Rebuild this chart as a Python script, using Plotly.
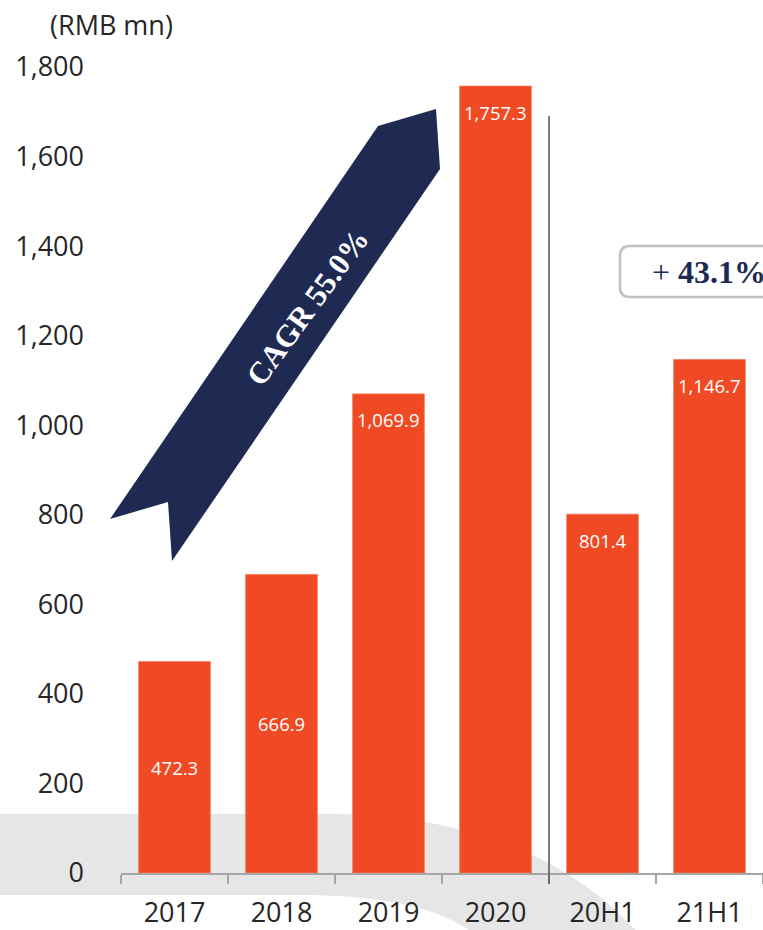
import plotly.graph_objects as go

# Revenue by period (RMB mn)
periods = ["2017", "2018", "2019", "2020", "20H1", "21H1"]
revenue = [472.3, 666.9, 1069.9, 1757.3, 801.4, 1146.7]
y_ticks = [0, 200, 400, 600, 800, 1000, 1200, 1400, 1600, 1800]

cagr_text = "CAGR 55.0%"
growth_text = "+ <b>43.1%</b>"
unit_text = "(RMB mn)"

W, H = 763, 930
ML, MR, MT, MB = 121, 0, 67, 57
PW, PH = W - ML - MR, H - MT - MB

BAR = "#EF4A23"
NAVY = "#1F2A53"
TXT = "#262626"
FONT = "Open Sans"


def px(x, y):
    """Pixel position on the page -> paper coordinates."""
    return (x - ML) / PW, (H - MB - y) / PH


def path(cmds):
    out = []
    for c in cmds:
        if isinstance(c, str):
            out.append(c)
        else:
            xx, yy = px(*c)
            out.append(f"{xx:.5f},{yy:.5f}")
    return " ".join(out)


fig = go.Figure()
fig.add_trace(go.Bar(
    x=periods, y=revenue, width=0.67,
    marker=dict(color=BAR, line=dict(color="#F37A5C", width=0.8)),
    hoverinfo="skip",
))

# value labels: centred in short bars, near the top of tall ones
# (category index used as x so numeric-looking names are not read as positions)
for i, v in enumerate(revenue):
    inside_mid = v < 700
    fig.add_annotation(
        x=i, y=v / 2 if inside_mid else v, yshift=0 if inside_mid else -26,
        text=f"{v:,.1f}", showarrow=False,
        font=dict(family=FONT, size=18.5, color="white"), yanchor="middle",
    )

shapes = []
# grey swoosh behind the baseline
shapes.append(dict(
    type="path", xref="paper", yref="paper", layer="below",
    path=path(["M", (-5, 814), "L", (330, 814), "C", (460, 814), (570, 855), (640, 935),
               "L", (475, 935), "C", (440, 905), (370, 895), (300, 895),
               "L", (-5, 895), "Z"]),
    fillcolor="#E6E6E6", line=dict(width=0),
))
# separator between full years and half years
sx, _ = px(549, 0)
_, sy0 = px(0, 884)
_, sy1 = px(0, 116)
shapes.append(dict(type="line", xref="paper", yref="paper", x0=sx, x1=sx, y0=sy0, y1=sy1,
                   line=dict(color="#595959", width=1.6), layer="above"))
# CAGR ribbon arrow
shapes.append(dict(
    type="path", xref="paper", yref="paper", layer="above",
    path=path(["M", (110, 519), "L", (168, 502), "L", (172, 561), "L", (440, 169),
               "L", (436, 109), "L", (378, 126), "Z"]),
    fillcolor=NAVY, line=dict(width=0),
))
# rounded box for half-year growth
r = 10
x0b, x1b, y0b, y1b = 620, 790, 246, 297
shapes.append(dict(
    type="path", xref="paper", yref="paper", layer="above",
    path=path(["M", (x0b + r, y0b), "L", (x1b - r, y0b), "Q", (x1b, y0b), (x1b, y0b + r),
               "L", (x1b, y1b - r), "Q", (x1b, y1b), (x1b - r, y1b),
               "L", (x0b + r, y1b), "Q", (x0b, y1b), (x0b, y1b - r),
               "L", (x0b, y0b + r), "Q", (x0b, y0b), (x0b + r, y0b), "Z"]),
    fillcolor="white", line=dict(color="#BFBFBF", width=2.5),
))
fig.update_layout(shapes=shapes)

cx, cy = px(307, 307)
fig.add_annotation(xref="paper", yref="paper", x=cx, y=cy, text=f"<b>{cagr_text}</b>",
                   showarrow=False, textangle=-54, xanchor="center", yanchor="middle",
                   font=dict(family="Liberation Serif", size=31, color="white"))
gx, gy = px(650, 272)
fig.add_annotation(xref="paper", yref="paper", x=gx, y=gy, text=growth_text,
                   showarrow=False, xanchor="left", yanchor="middle",
                   font=dict(family="Liberation Serif", size=32, color=NAVY))
ux, uy = px(111, 24)
fig.add_annotation(xref="paper", yref="paper", x=ux, y=uy, text=unit_text,
                   showarrow=False, xanchor="center", yanchor="middle",
                   font=dict(family=FONT, size=27, color=TXT))

fig.update_layout(
    width=W, height=H,
    margin=dict(l=ML, r=MR, t=MT, b=MB, autoexpand=False),
    paper_bgcolor="white", plot_bgcolor="rgba(0,0,0,0)",
    showlegend=False,
    font=dict(family=FONT, color=TXT),
    xaxis=dict(
        type="category", categoryorder="array", categoryarray=periods,
        range=[-0.5, len(periods) - 0.5], autorange=False,
        showgrid=False, zeroline=False,
        showline=True, linecolor="#A6A6A6", linewidth=1.5,
        ticks="outside", tickson="boundaries", ticklen=9, tickcolor="#A6A6A6", tickwidth=1.5,
        tickangle=0,
        tickfont=dict(family=FONT, size=27, color=TXT), ticklabelstandoff=15,
    ),
    yaxis=dict(
        range=[0, 1800], autorange=False, tickvals=y_ticks, tickformat=",",
        showgrid=False, zeroline=False,
        showline=False, ticks="", tickfont=dict(family=FONT, size=27, color=TXT),
        ticklabelstandoff=36,
    ),
)

fig.write_html("out.html")
